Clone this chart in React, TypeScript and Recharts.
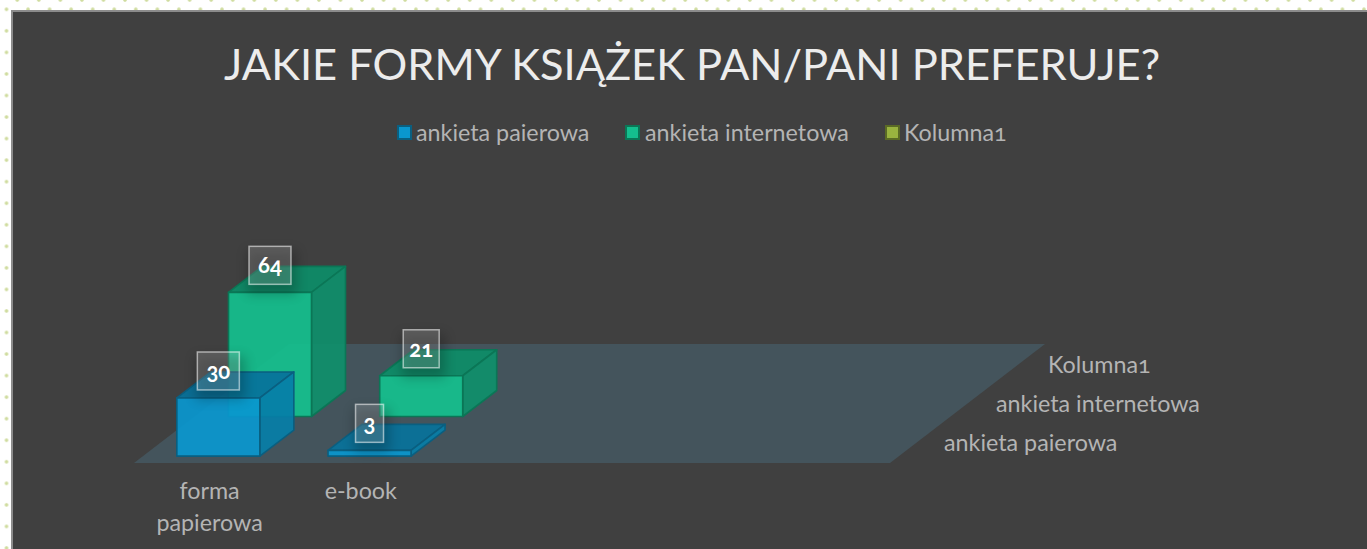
import { Bar, BarChart, LabelList, XAxis, YAxis } from 'recharts';

const categories = ['forma papierowa', 'e-book', ' ', '  ', '   '];
const paperValues = [30, 3, null, null, null];
const internetValues = [64, 21, null, null, null];
const column1Values = [null, null, null, null, null];

const seriesNames = ['ankieta paierowa', 'ankieta internetowa', 'Kolumna1'];
const title = 'JAKIE FORMY KSIĄŻEK PAN/PANI PREFERUJE?';

const palettes = [
  { front: '#0a97cf', top: '#07729b', side: '#067ea8', stroke: '#0a5f80' },
  { front: '#14bf8e', top: '#0d8d68', side: '#0f8f6c', stroke: '#0b7656' },
  { front: '#99b33f', top: '#73862f', side: '#7a8f33', stroke: '#5a6a25' },
];
const legendLayout = [
  { swatch: 397, text: 416 },
  { swatch: 625, text: 645 },
  { swatch: 885, text: 904 },
];

const FONT = 'Lato, "Open Sans", sans-serif';

// plot area on the floor's front edge
const WIDTH = 1367;
const HEIGHT = 549;
const LEFT = 134;
const RIGHT = 890;
const BOTTOM = 463;
const PX_PER_UNIT = 1.94;
const MAX_VALUE = 70;

// one row of depth, and the depth of one box inside a row
const ROW_DX = 51.67;
const ROW_DY = 39.67;
const BOX_DX = 34;
const BOX_DY = 26;
const BAR_WIDTH = 83;

const data = categories.map((category, i) => ({
  category,
  paper: paperValues[i],
  internet: internetValues[i],
  column1: column1Values[i],
}));

const rowOffset = (row: number) => ({
  dx: row * ROW_DX + (ROW_DX - BOX_DX) / 2,
  dy: row * ROW_DY + (ROW_DY - BOX_DY) / 2,
});

const pts = (list: number[][]) => list.map((p) => p.join(',')).join(' ');

function Box3D({ x, y, width, height, row }: any) {
  if (!height || height <= 0) return null;
  const { dx, dy } = rowOffset(row);
  const c = palettes[row];
  const l = x + dx;
  const r = l + width;
  const t = y - dy;
  const b = t + height;
  return (
    <g stroke={c.stroke} strokeWidth={1.6} strokeLinejoin="round" fillOpacity={0.93}>
      <polygon points={pts([[l, t], [r, t], [r + BOX_DX, t - BOX_DY], [l + BOX_DX, t - BOX_DY]])} fill={c.top} />
      <polygon points={pts([[r, t], [r + BOX_DX, t - BOX_DY], [r + BOX_DX, b - BOX_DY], [r, b]])} fill={c.side} />
      <rect x={l} y={t} width={width} height={height} fill={c.front} />
    </g>
  );
}

function ValueLabel({ x, y, width, value, row }: any) {
  if (value === null || value === undefined) return null;
  const { dx, dy } = rowOffset(row);
  const text = String(value);
  const boxW = text.split('').reduce((sum, ch) => sum + (ch === '1' ? 8 : 14), 14);
  const cx = x + dx + width / 2;
  const cy = y - dy - 27;
  return (
    <g>
      <rect x={cx - boxW / 2 - 2} y={cy - 15} width={boxW + 8} height={44} fill="#000" opacity={0.22} filter="url(#labelShadow)" />
      <rect x={cx - boxW / 2} y={cy - 19} width={boxW} height={38} fill="#fff" fillOpacity={0.16} stroke="#fff" strokeOpacity={0.55} strokeWidth={1.5} />
      <text x={cx} y={cy + 8} textAnchor="middle" fill="#fff" fontFamily={FONT} fontWeight={700} fontSize={22} style={{ fontVariantNumeric: 'oldstyle-nums' }}>
        {text}
      </text>
    </g>
  );
}

function CategoryTick({ x, y, payload }: any) {
  const lines = String(payload.value).trim().split(' ');
  return (
    <text x={x} y={y} textAnchor="middle" fill="#b4b4b4" fontFamily={FONT} fontSize={23.3}>
      {lines.map((line, i) => (
        <tspan key={line} x={x} dy={i === 0 ? 28 : 32}>{line}</tspan>
      ))}
    </text>
  );
}

function Floor() {
  const depthX = ROW_DX * seriesNames.length;
  const depthY = ROW_DY * seriesNames.length;
  return (
    <g>
      <defs>
        <filter id="labelShadow" x="-40%" y="-40%" width="180%" height="180%">
          <feGaussianBlur stdDeviation="6" />
        </filter>
      </defs>
      <polygon
        points={pts([[LEFT, BOTTOM], [RIGHT, BOTTOM], [RIGHT + depthX, BOTTOM - depthY], [LEFT + depthX, BOTTOM - depthY]])}
        fill="#44545c"
      />
      {seriesNames.map((name, i) => (
        <text
          key={name}
          x={RIGHT + 54 + i * 52}
          y={BOTTOM - 12 - i * 39}
          fill="#b4b4b4"
          fontFamily={FONT}
          fontSize={23.3}
          style={{ fontVariantNumeric: 'oldstyle-nums' }}
        >
          {name}
        </text>
      ))}
    </g>
  );
}

export default function App() {
  return (
    <div
      style={{
        position: 'absolute',
        left: 0,
        top: 0,
        width: WIDTH,
        height: HEIGHT,
        overflow: 'hidden',
        backgroundColor: '#fff',
        backgroundImage:
          'radial-gradient(circle, #cfdc9e 0, #cfdc9e 1.3px, transparent 2.2px), radial-gradient(circle, #cfdc9e 0, #cfdc9e 1.3px, transparent 2.2px)',
        backgroundSize: '21.55px 21.55px',
        backgroundPosition: '-4.28px -1.48px, 6.5px -10.78px',
      }}
    >
      <div
        style={{
          position: 'absolute',
          left: 11,
          top: 10,
          width: WIDTH,
          height: HEIGHT,
          background: '#404040',
          borderTop: '2px solid #8c8c8c',
          borderLeft: '2px solid #8c8c8c',
        }}
      />
      <div
        style={{
          position: 'absolute',
          left: 11,
          width: 1362,
          top: 35,
          textAlign: 'center',
          color: '#ececec',
          fontFamily: FONT,
          fontSize: 43.4,
          lineHeight: '56px',
          whiteSpace: 'nowrap',
        }}
      >
        {title}
      </div>
      {seriesNames.map((name, i) => (
        <div key={name}>
          <div
            style={{
              position: 'absolute',
              left: legendLayout[i].swatch,
              top: 125,
              width: 11,
              height: 11,
              background: palettes[i].front,
              border: `2px solid ${palettes[i].stroke}`,
            }}
          />
          <div
            style={{
              position: 'absolute',
              left: legendLayout[i].text,
              top: 117,
              color: '#b4b4b4',
              fontFamily: FONT,
              fontSize: 23.3,
              lineHeight: '30px',
              whiteSpace: 'nowrap',
              fontVariantNumeric: 'oldstyle-nums',
            }}
          >
            {name}
          </div>
        </div>
      ))}
      <div style={{ position: 'absolute', left: 0, top: 0 }}>
        <BarChart
          width={WIDTH}
          height={HEIGHT}
          data={data}
          barSize={BAR_WIDTH}
          barGap={-BAR_WIDTH}
          margin={{ top: BOTTOM - MAX_VALUE * PX_PER_UNIT, right: WIDTH - RIGHT, bottom: 0, left: LEFT }}
        >
          <Floor />
          <XAxis
            dataKey="category"
            height={HEIGHT - BOTTOM}
            interval={0}
            axisLine={false}
            tickLine={false}
            tick={<CategoryTick />}
          />
          <YAxis hide domain={[0, MAX_VALUE]} />
          <Bar dataKey="column1" name={seriesNames[2]} isAnimationActive={false} shape={(p: any) => <Box3D {...p} row={2} />} />
          <Bar dataKey="internet" name={seriesNames[1]} isAnimationActive={false} shape={(p: any) => <Box3D {...p} row={1} />}>
            <LabelList dataKey="internet" content={(p: any) => <ValueLabel {...p} row={1} />} />
          </Bar>
          <Bar dataKey="paper" name={seriesNames[0]} isAnimationActive={false} shape={(p: any) => <Box3D {...p} row={0} />}>
            <LabelList dataKey="paper" content={(p: any) => <ValueLabel {...p} row={0} />} />
          </Bar>
        </BarChart>
      </div>
    </div>
  );
}
